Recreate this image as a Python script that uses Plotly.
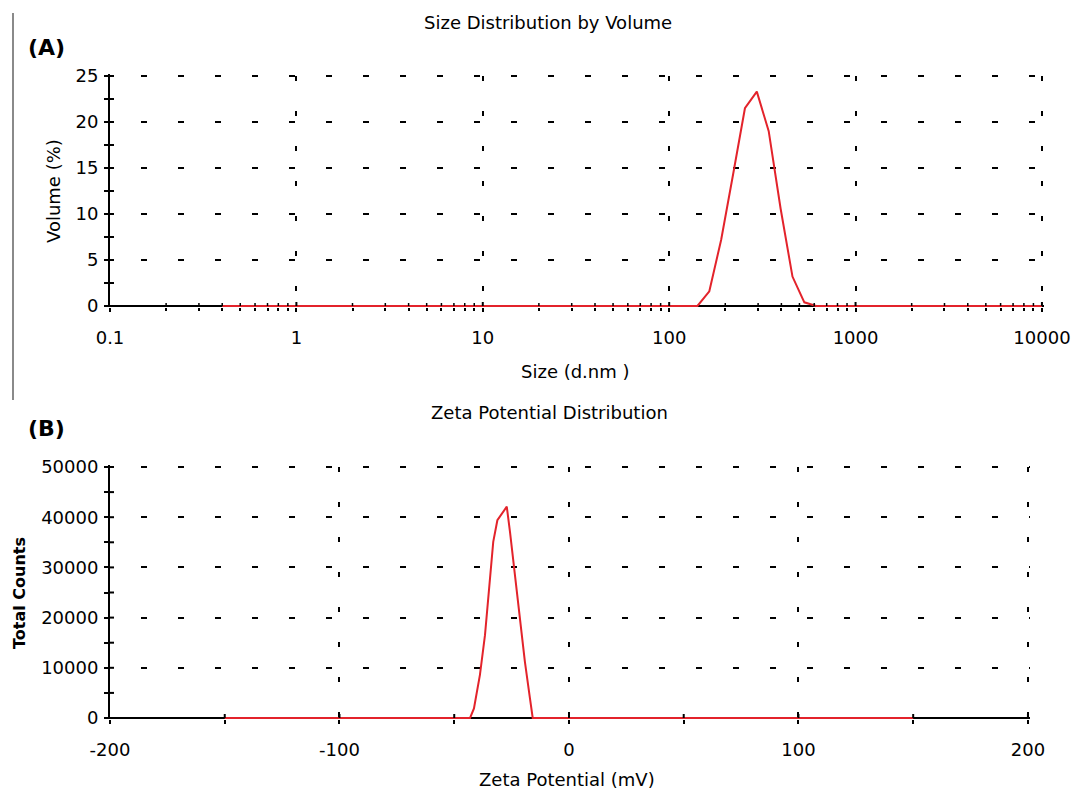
import plotly.graph_objects as go

# ---------------- data ----------------
# (A) Size distribution by volume
size_nm = [0.4, 141.8, 164.2, 190.1, 220.2, 255.0, 295.3, 342.0, 396.1, 458.7, 531.2, 615.1, 10000]
volume_pct = [0, 0, 1.6, 7.2, 14.3, 21.5, 23.3, 19.0, 10.6, 3.2, 0.4, 0, 0]

# (B) Zeta potential distribution
zeta_mv = [-150, -43.1, -41.4, -38.8, -36.6, -34.4, -33.0, -31.2, -27.1, -25.7, -23.5, -21.4, -19.2, -17.0, -15.8, 150]
zeta_counts = [0, 0, 1900, 8600, 16500, 27200, 35100, 39400, 42100, 37100, 28500, 19200, 11200, 3900, 0, 0]

# ticks
size_ticks = [0.1, 1, 10, 100, 1000, 10000]
size_ticktext = ["0.1", "1", "10", "100", "1000", "10000"]
size_minor = [k * 10 ** e for e in range(-1, 4) for k in range(2, 10)]
volume_ticks = [0, 5, 10, 15, 20, 25]
volume_minor = [2.5, 7.5, 12.5, 17.5, 22.5]
zeta_ticks = [-200, -100, 0, 100, 200]
zeta_ticktext = ["-200", "-100", "0", "100", "200"]
zeta_minor = [-150, -50, 50, 150]
count_ticks = [0, 10000, 20000, 30000, 40000, 50000]
count_minor = [5000, 15000, 25000, 35000, 45000]

# ---------------- styling ----------------
W, H = 1075, 792
FONT = "DejaVu Sans"
RED = "#e3232b"
BLACK = "#000000"


def px(x):
    return x / W


def py(y):
    return 1 - y / H


# plot areas are padded ~2px beyond the last grid line so that the edge grid lines are drawn
top_x = [px(110), px(1044)]
top_y = [py(307), py(74)]
bot_x = [px(110), px(1030)]
bot_y = [py(719), py(465)]

HDASH = "0px,31px,6px,0px"
VDASH = "0px,2px,5px,28px"

fig = go.Figure()

fig.add_trace(go.Scatter(x=size_nm, y=volume_pct, mode="lines",
                         line=dict(color=RED, width=2), xaxis="x", yaxis="y",
                         showlegend=False))
fig.add_trace(go.Scatter(x=zeta_mv, y=zeta_counts, mode="lines",
                         line=dict(color=RED, width=2), xaxis="x2", yaxis="y2",
                         showlegend=False))

tickfont = dict(family=FONT, size=18, color=BLACK)

common = dict(linecolor=BLACK, linewidth=2, ticks="outside",
              ticklen=4, tickwidth=2, tickcolor=BLACK,
              gridcolor=BLACK, gridwidth=2, tickfont=tickfont, layer="below traces",
              fixedrange=True, showgrid=True, automargin=False)


def minor(vals, ln=4, w=2):
    return dict(tickmode="array", tickvals=vals, ticks="outside",
                ticklen=ln, tickwidth=w, tickcolor=BLACK, showgrid=False)


# the x axis baseline is drawn as the y zero line so the red curve can lie on top of it
fig.update_layout(
    width=W, height=H,
    margin=dict(l=0, r=0, t=0, b=0, autoexpand=False),
    paper_bgcolor="white", plot_bgcolor="white",
    showlegend=False,
    xaxis=dict(domain=top_x, anchor="y", type="log", range=[-1, 4.011],
               tickmode="array", tickvals=size_ticks, ticktext=size_ticktext,
               minor=minor(size_minor, 3, 1.5), showline=False, zeroline=False,
               griddash=VDASH, ticklabelstandoff=10, **common),
    yaxis=dict(domain=top_y, anchor="x", range=[-0.11, 25.22],
               tickmode="array", tickvals=volume_ticks,
               minor=minor(volume_minor), showline=True,
               zeroline=True, zerolinecolor=BLACK, zerolinewidth=2,
               griddash=HDASH, ticklabelstandoff=2, **common),
    xaxis2=dict(domain=bot_x, anchor="y2", range=[-200, 200.9],
                tickmode="array", tickvals=zeta_ticks, ticktext=zeta_ticktext,
                minor=minor(zeta_minor), showline=False, zeroline=False,
                griddash=VDASH, ticklabelstandoff=10, **common),
    yaxis2=dict(domain=bot_y, anchor="x2", range=[-200, 50400],
                tickmode="array", tickvals=count_ticks,
                ticktext=[str(v) for v in count_ticks],
                minor=minor(count_minor), showline=True,
                zeroline=True, zerolinecolor=BLACK, zerolinewidth=2,
                griddash=HDASH, ticklabelstandoff=2, **common),
)

# inner halves of the axis ticks (so ticks cross the axis line)
shapes = []


def xtick_in(xref, yref, xval, ln, w):
    shapes.append(dict(type="line", xref=xref, yref=yref, ysizemode="pixel",
                       yanchor=0, x0=xval, x1=xval, y0=0, y1=ln,
                       line=dict(color=BLACK, width=w), layer="above"))


def ytick_in(xref, yref, xanchor, yval, ln, w):
    shapes.append(dict(type="line", xref=xref, yref=yref, xsizemode="pixel",
                       xanchor=xanchor, x0=0, x1=ln, y0=yval, y1=yval,
                       line=dict(color=BLACK, width=w), layer="above"))


for v in size_ticks[1:]:
    xtick_in("x", "y", v, 4, 2)
for v in size_minor:
    xtick_in("x", "y", v, 3, 1.5)
for v in volume_ticks[1:] + volume_minor:
    ytick_in("x", "y", size_ticks[0], v, 4, 2)
for v in zeta_ticks[1:] + zeta_minor:
    xtick_in("x2", "y2", v, 4, 2)
for v in count_ticks[1:] + count_minor:
    ytick_in("x2", "y2", zeta_ticks[0], v, 4, 2)

# thin gray divider line on the left (figure decoration)
shapes.append(dict(type="line", xref="paper", yref="paper",
                   x0=px(13), x1=px(13), y0=py(400), y1=py(13),
                   line=dict(color="#8a8a8a", width=2)))
fig.update_layout(shapes=shapes)

txt = dict(family=FONT, size=18, color=BLACK)
ann = [
    dict(text="Size Distribution by Volume", x=px(548), y=py(22), font=txt),
    dict(text="<b>(A)</b>", x=px(26), y=py(47), xanchor="left",
         font=dict(family=FONT, size=22, color=BLACK)),
    dict(text="Volume (%)", x=px(54), y=py(191), textangle=-90, font=txt),
    dict(text="Size (d.nm )", x=px(575), y=py(371), font=txt),
    dict(text="Zeta Potential Distribution", x=px(549), y=py(412), font=txt),
    dict(text="<b>(B)</b>", x=px(26), y=py(429), xanchor="left",
         font=dict(family=FONT, size=22, color=BLACK)),
    dict(text="<b>Total Counts</b>", x=px(19), y=py(593), textangle=-90,
         font=dict(family=FONT, size=16, color=BLACK)),
    dict(text="Zeta Potential (mV)", x=px(567), y=py(779), font=txt),
]
for a in ann:
    a.setdefault("xanchor", "center")
    a.update(xref="paper", yref="paper", yanchor="middle", showarrow=False)
fig.update_layout(annotations=ann)

fig.write_html("out.html")
